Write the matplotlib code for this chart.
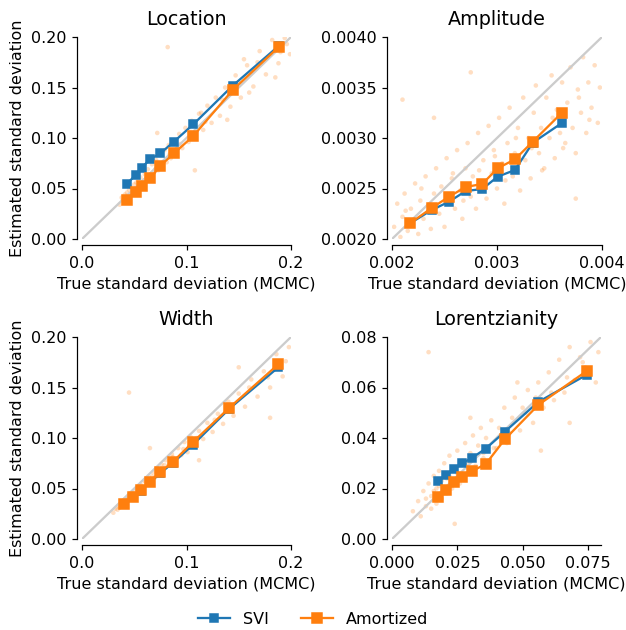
import numpy as np
import matplotlib
matplotlib.use("Agg")
import matplotlib.pyplot as plt
from matplotlib.lines import Line2D

plt.rcParams["font.size"] = 10.45

# ---------------- data ----------------
titles = ["Location", "Amplitude", "Width", "Lorentzianity"]

# Location
loc_bin_x = [0.0428, 0.0514, 0.0571, 0.0654, 0.0750, 0.0880, 0.1065, 0.1442, 0.1885]
loc_svi = [0.0545, 0.0634, 0.0706, 0.0792, 0.0848, 0.0964, 0.1135, 0.1518, 0.1914]
loc_amort = [0.0386, 0.0470, 0.0525, 0.0601, 0.0726, 0.0848, 0.1020, 0.1475, 0.1904]
loc_pts_x = [0.036, 0.038, 0.040, 0.041, 0.042, 0.043, 0.044, 0.045, 0.046, 0.047,
             0.048, 0.049, 0.050, 0.051, 0.052, 0.053, 0.054, 0.055, 0.056, 0.058,
             0.060, 0.062, 0.063, 0.065, 0.067, 0.069, 0.071, 0.073, 0.075, 0.077,
             0.079, 0.081, 0.083, 0.085, 0.088, 0.090, 0.093, 0.096, 0.099, 0.102,
             0.105, 0.108, 0.112, 0.116, 0.120, 0.124, 0.128, 0.132, 0.137, 0.142,
             0.147, 0.152, 0.158, 0.164, 0.170, 0.176, 0.182, 0.188, 0.194, 0.199,
             0.082, 0.072, 0.108, 0.114, 0.155, 0.185, 0.139, 0.160,
             0.039, 0.043, 0.047, 0.051, 0.055, 0.059, 0.064, 0.070, 0.076, 0.084,
             0.094, 0.104, 0.118, 0.134, 0.150, 0.168, 0.190, 0.196]
loc_pts_y = [0.034, 0.041, 0.037, 0.044, 0.040, 0.046, 0.041, 0.049, 0.043, 0.051,
             0.046, 0.044, 0.054, 0.048, 0.056, 0.050, 0.058, 0.052, 0.061, 0.055,
             0.064, 0.058, 0.069, 0.061, 0.074, 0.066, 0.078, 0.068, 0.083, 0.072,
             0.088, 0.076, 0.093, 0.080, 0.097, 0.085, 0.104, 0.090, 0.110, 0.096,
             0.117, 0.101, 0.124, 0.108, 0.132, 0.115, 0.140, 0.122, 0.150, 0.131,
             0.162, 0.140, 0.172, 0.151, 0.186, 0.163, 0.197, 0.174, 0.199, 0.183,
             0.190, 0.105, 0.068, 0.125, 0.178, 0.160, 0.118, 0.145,
             0.038, 0.042, 0.045, 0.050, 0.054, 0.058, 0.063, 0.069, 0.075, 0.084,
             0.094, 0.106, 0.116, 0.138, 0.155, 0.175, 0.185, 0.193]

# Amplitude
amp_bin_x = [0.002171, 0.002378, 0.002543, 0.002702, 0.002860, 0.003006, 0.003171, 0.003340, 0.003619]
amp_svi = [0.002155, 0.002287, 0.002369, 0.002475, 0.002495, 0.002617, 0.002683, 0.002953, 0.003149]
amp_amort = [0.002155, 0.002307, 0.002419, 0.002515, 0.002545, 0.002700, 0.002789, 0.002963, 0.003251]
amp_pts_x = [0.00202, 0.00205, 0.00208, 0.00210, 0.00212, 0.00215, 0.00218, 0.00220, 0.00222, 0.00225,
             0.00227, 0.00230, 0.00232, 0.00235, 0.00237, 0.00240, 0.00242, 0.00245, 0.00247, 0.00250,
             0.00252, 0.00255, 0.00257, 0.00260, 0.00262, 0.00265, 0.00267, 0.00270, 0.00272, 0.00275,
             0.00277, 0.00280, 0.00282, 0.00285, 0.00287, 0.00290, 0.00292, 0.00295, 0.00297, 0.00300,
             0.00302, 0.00305, 0.00307, 0.00310, 0.00312, 0.00315, 0.00317, 0.00320, 0.00322, 0.00325,
             0.00327, 0.00330, 0.00332, 0.00335, 0.00337, 0.00340, 0.00342, 0.00345, 0.00347, 0.00350,
             0.00352, 0.00355, 0.00357, 0.00360, 0.00362, 0.00365, 0.00367, 0.00370, 0.00372, 0.00375,
             0.00377, 0.00380, 0.00382, 0.00385, 0.00387, 0.00390, 0.00393, 0.00396, 0.00398,
             0.00210, 0.00275, 0.00375, 0.00240,
             0.00213, 0.00228, 0.00243, 0.00258, 0.00268, 0.00283, 0.00298, 0.00308, 0.00318, 0.00333,
             0.00343, 0.00353, 0.00363, 0.00378, 0.00388]
amp_pts_y = [0.00212, 0.00235, 0.00202, 0.00222, 0.00245, 0.00208, 0.00230, 0.00215, 0.00255, 0.00205,
             0.00238, 0.00220, 0.00262, 0.00228, 0.00210, 0.00245, 0.00270, 0.00225, 0.00252, 0.00212,
             0.00280, 0.00240, 0.00260, 0.00230, 0.00288, 0.00248, 0.00220, 0.00270, 0.00295, 0.00242,
             0.00262, 0.00230, 0.00305, 0.00255, 0.00278, 0.00240, 0.00312, 0.00265, 0.00288, 0.00250,
             0.00320, 0.00275, 0.00235, 0.00295, 0.00330, 0.00262, 0.00285, 0.00310, 0.00248, 0.00340,
             0.00278, 0.00300, 0.00260, 0.00325, 0.00352, 0.00285, 0.00310, 0.00270, 0.00340, 0.00300,
             0.00362, 0.00280, 0.00328, 0.00305, 0.00355, 0.00295, 0.00335, 0.00370, 0.00310, 0.00285,
             0.00348, 0.00325, 0.00380, 0.00305, 0.00355, 0.00330, 0.00372, 0.00315, 0.00350,
             0.00338, 0.00365, 0.00240, 0.00320,
             0.00228, 0.00250, 0.00232, 0.00265, 0.00238, 0.00268, 0.00282, 0.00258, 0.00300, 0.00290,
             0.00268, 0.00320, 0.00290, 0.00340, 0.00318]

# Width
wid_bin_x = [0.0405, 0.0485, 0.0561, 0.0651, 0.0749, 0.0868, 0.1059, 0.1410, 0.1879]
wid_svi = [0.0343, 0.0414, 0.0480, 0.0560, 0.0652, 0.0752, 0.0930, 0.1290, 0.1700]
wid_amort = [0.0347, 0.0419, 0.0485, 0.0568, 0.0663, 0.0762, 0.0957, 0.1300, 0.1730]
wid_pts_x = [0.030, 0.032, 0.034, 0.035, 0.036, 0.037, 0.038, 0.039, 0.040, 0.041,
             0.042, 0.043, 0.044, 0.045, 0.046, 0.047, 0.048, 0.049, 0.050, 0.052,
             0.054, 0.056, 0.058, 0.060, 0.062, 0.064, 0.066, 0.068, 0.070, 0.072,
             0.074, 0.076, 0.078, 0.080, 0.083, 0.086, 0.089, 0.092, 0.095, 0.098,
             0.101, 0.104, 0.108, 0.112, 0.116, 0.120, 0.125, 0.130, 0.135, 0.140,
             0.145, 0.150, 0.156, 0.162, 0.168, 0.174, 0.180, 0.186, 0.192, 0.198,
             0.045, 0.065, 0.112, 0.180, 0.150,
             0.039, 0.044, 0.049, 0.053, 0.057, 0.061, 0.067, 0.073, 0.079, 0.087,
             0.097, 0.110, 0.127, 0.143, 0.160, 0.178, 0.195]
wid_pts_y = [0.026, 0.030, 0.029, 0.033, 0.031, 0.035, 0.033, 0.037, 0.034, 0.039,
             0.036, 0.041, 0.038, 0.043, 0.040, 0.045, 0.042, 0.046, 0.044, 0.049,
             0.047, 0.053, 0.050, 0.057, 0.054, 0.061, 0.058, 0.066, 0.061, 0.070,
             0.064, 0.074, 0.068, 0.078, 0.073, 0.084, 0.078, 0.090, 0.083, 0.096,
             0.086, 0.101, 0.093, 0.107, 0.099, 0.115, 0.106, 0.124, 0.114, 0.136,
             0.122, 0.144, 0.131, 0.158, 0.141, 0.166, 0.150, 0.183, 0.161, 0.190,
             0.145, 0.090, 0.078, 0.120, 0.170,
             0.035, 0.040, 0.045, 0.049, 0.053, 0.057, 0.062, 0.068, 0.073, 0.081,
             0.089, 0.100, 0.118, 0.128, 0.150, 0.160, 0.176]

# Lorentzianity
lor_bin_x = [0.01748, 0.02067, 0.02373, 0.0269, 0.0307, 0.0359, 0.0432, 0.0560, 0.0745]
lor_svi = [0.0230, 0.0253, 0.0279, 0.0300, 0.0322, 0.0358, 0.0425, 0.0543, 0.0650]
lor_amort = [0.0165, 0.0194, 0.0227, 0.0247, 0.0269, 0.0297, 0.0395, 0.0531, 0.0665]
lor_pts_x = [0.008, 0.010, 0.011, 0.012, 0.013, 0.014, 0.015, 0.015, 0.016, 0.017,
             0.017, 0.018, 0.019, 0.019, 0.020, 0.021, 0.022, 0.022, 0.023, 0.024,
             0.025, 0.026, 0.027, 0.028, 0.029, 0.030, 0.031, 0.032, 0.033, 0.034,
             0.035, 0.036, 0.037, 0.038, 0.040, 0.041, 0.043, 0.044, 0.046, 0.047,
             0.049, 0.050, 0.052, 0.054, 0.056, 0.058, 0.060, 0.062, 0.064, 0.066,
             0.068, 0.070, 0.072, 0.074, 0.076, 0.078, 0.079,
             0.014, 0.030, 0.057, 0.048, 0.068, 0.024,
             0.013, 0.016, 0.018, 0.020, 0.021, 0.023, 0.025, 0.027, 0.029, 0.032,
             0.035, 0.039, 0.042, 0.045, 0.051, 0.055, 0.061, 0.067, 0.073]
lor_pts_y = [0.011, 0.015, 0.009, 0.019, 0.013, 0.022, 0.012, 0.017, 0.025, 0.014,
             0.020, 0.027, 0.016, 0.023, 0.030, 0.018, 0.025, 0.033, 0.021, 0.028,
             0.035, 0.022, 0.031, 0.038, 0.026, 0.034, 0.041, 0.028, 0.037, 0.044,
             0.032, 0.040, 0.030, 0.047, 0.036, 0.044, 0.052, 0.038, 0.048, 0.056,
             0.043, 0.052, 0.059, 0.046, 0.062, 0.052, 0.066, 0.055, 0.071, 0.058,
             0.076, 0.063, 0.072, 0.068, 0.078, 0.062, 0.074,
             0.074, 0.048, 0.035, 0.062, 0.046, 0.006,
             0.016, 0.019, 0.021, 0.018, 0.024, 0.020, 0.026, 0.024, 0.030, 0.029,
             0.034, 0.036, 0.040, 0.042, 0.050, 0.056, 0.058, 0.064, 0.070]

panels = [
    (loc_bin_x, loc_svi, loc_amort, loc_pts_x, loc_pts_y),
    (amp_bin_x, amp_svi, amp_amort, amp_pts_x, amp_pts_y),
    (wid_bin_x, wid_svi, wid_amort, wid_pts_x, wid_pts_y),
    (lor_bin_x, lor_svi, lor_amort, lor_pts_x, lor_pts_y),
]
xlims = [(0, 0.2), (0.002, 0.004), (0, 0.2), (0, 0.08)]
ylims = [(0, 0.2), (0.002, 0.004), (0, 0.2), (0, 0.08)]
xticks = [[0, 0.1, 0.2], [0.002, 0.003, 0.004], [0, 0.1, 0.2], [0, 0.025, 0.05, 0.075]]
yticks = [[0, 0.05, 0.1, 0.15, 0.2], [0.002, 0.0025, 0.003, 0.0035, 0.004],
          [0, 0.05, 0.1, 0.15, 0.2], [0, 0.02, 0.04, 0.06, 0.08]]
xtick_labels = [["0.0", "0.1", "0.2"], ["0.002", "0.003", "0.004"], ["0.0", "0.1", "0.2"],
                ["0.000", "0.025", "0.050", "0.075"]]
ytick_labels = [["0.00", "0.05", "0.10", "0.15", "0.20"],
                ["0.0020", "0.0025", "0.0030", "0.0035", "0.0040"],
                ["0.00", "0.05", "0.10", "0.15", "0.20"],
                ["0.00", "0.02", "0.04", "0.06", "0.08"]]

# ---------------- figure ----------------
DPI = 110
W, H = 626, 630
fig = plt.figure(figsize=(W / DPI, H / DPI), dpi=DPI)

# axes boxes in pixels: (left, top, right, bottom)
boxes = [(82, 37, 291, 239), (392, 37, 602, 239), (82, 337, 291, 539), (392, 337, 601, 539)]

blue = "#1f77b4"
orange = "#ff7f0e"

for i, (bx, svi, am, px, py) in enumerate(panels):
    l, t, r, b = boxes[i]
    ax = fig.add_axes([l / W, 1 - b / H, (r - l) / W, (b - t) / H])
    ax.scatter(px, py, s=9, color=orange, alpha=0.25, edgecolors="none", zorder=1)
    lo, hi = xlims[i]
    ax.plot([lo, hi], [ylims[i][0], ylims[i][1]], color="0.8", lw=1.5, zorder=2)
    ax.plot(bx, svi, "-s", color=blue, ms=5, lw=1.5, zorder=3)
    ax.plot(bx, am, "-s", color=orange, ms=7, lw=1.5, zorder=4)
    ax.set_xlim(*xlims[i])
    ax.set_ylim(*ylims[i])
    ax.set_xticks(xticks[i])
    ax.set_xticklabels(xtick_labels[i])
    ax.set_yticks(yticks[i])
    ax.set_yticklabels(ytick_labels[i])
    ax.spines["top"].set_visible(False)
    ax.spines["right"].set_visible(False)
    ax.spines["left"].set_position(("outward", 3))
    ax.spines["bottom"].set_position(("outward", 4))
    ax.set_title(titles[i], pad=8)
    ax.set_xlabel("True standard deviation (MCMC)")
    if i % 2 == 0:
        ax.set_ylabel("Estimated standard deviation")

handles = [Line2D([], [], color=blue, marker="s", ms=5, lw=1.5),
           Line2D([], [], color=orange, marker="s", ms=7, lw=1.5)]
fig.legend(handles, ["SVI", "Amortized"], loc="center", bbox_to_anchor=(0.5, 1 - 619 / H),
           ncol=2, frameon=False, columnspacing=2.0)

fig.savefig("out.png", dpi=DPI)
